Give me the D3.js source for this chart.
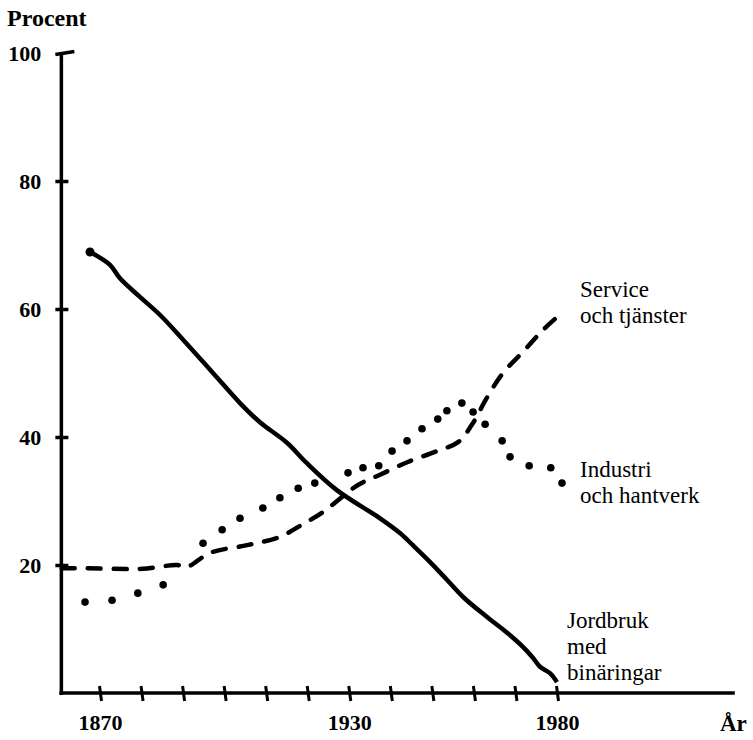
<!DOCTYPE html>
<html>
<head>
<meta charset="utf-8">
<script src="https://cdn.jsdelivr.net/npm/d3@7"></script>
<style>
  body { margin: 0; background: #fff; }
  text { font-family: "Liberation Serif", "DejaVu Serif", serif; fill: #000; }
</style>
</head>
<body>
<div id="my_dataviz"></div>
<script>
// values (year, percent)
const jordbrukYears  = [1867.6, 1872.4, 1874.8, 1879.6, 1884.4, 1890.0, 1897.2, 1903.7, 1908.5, 1915.0, 1919.8, 1927.0, 1937.4, 1942.2, 1945.3, 1949.4, 1953.5, 1957.4, 1963.1, 1968.0, 1971.8, 1974.2, 1975.9, 1978.3, 1980.0];
const jordbrukValues = [68.9, 66.9, 64.8, 61.9, 59.1, 55.2, 50.0, 45.3, 42.3, 39.1, 35.9, 31.7, 27.3, 25.0, 23.1, 20.5, 17.7, 15.0, 11.9, 9.4, 7.2, 5.5, 4.1, 3.1, 1.7];

const serviceYears  = [1860.8, 1866.4, 1872.9, 1880.3, 1888.5, 1890.9, 1896.5, 1905.4, 1913.3, 1918.1, 1923.7, 1932.1, 1937.4, 1944.1, 1951.1, 1956.2, 1959.5, 1963.1, 1967.0, 1971.8, 1976.6, 1981.2];
const serviceValues = [19.5, 19.5, 19.4, 19.4, 20.0, 19.7, 21.9, 23.1, 24.4, 26.1, 28.3, 32.5, 34.1, 36.1, 37.8, 39.2, 41.9, 46.1, 50.0, 53.3, 56.7, 59.4];

const industriYears  = [1866.4, 1872.9, 1879.1, 1885.2, 1894.8, 1899.4, 1903.7, 1909.2, 1913.3, 1917.7, 1921.7, 1929.7, 1933.3, 1937.1, 1940.3, 1943.9, 1947.5, 1951.3, 1953.5, 1957.1, 1959.8, 1962.7, 1966.8, 1968.7, 1973.3, 1978.5, 1981.2];
const industriValues = [14.2, 14.5, 15.6, 16.9, 23.4, 25.5, 27.3, 28.9, 30.5, 32.0, 32.8, 34.4, 35.2, 35.5, 37.8, 39.4, 41.3, 42.8, 44.1, 45.3, 43.9, 42.0, 39.4, 36.9, 35.5, 35.2, 32.8];

const xTickYears  = [1870, 1880, 1890, 1900, 1910, 1920, 1930, 1940, 1950, 1960, 1970, 1980];
const xTickLabels = [1870, 1930, 1980];
const yTickValues = [20, 40, 60, 80, 100];

const zip = (xs, vs) => xs.map((x, i) => ({year: x, value: vs[i]}));
const jordbruk = zip(jordbrukYears, jordbrukValues);
const service  = zip(serviceYears, serviceValues);
const industri = zip(industriYears, industriValues);

// set the dimensions of the graph
const width = 753, height = 740;

const svg = d3.select("#my_dataviz")
  .append("svg")
    .attr("width", width)
    .attr("height", height);

// scales
const x = d3.scaleLinear()
  .domain([1870, 1980])
  .range([100, 557]);
const y = d3.scaleLinear()
  .domain([0, 100])
  .range([693, 53]);

const xStart = 1860.7, xEnd = 2022.8;

// X axis: ticks crossing the line, labels only on a few years
const xAxis = svg.append("g")
  .attr("transform", `translate(0, ${y(0)})`)
  .call(d3.axisBottom(x)
    .tickValues(xTickYears)
    .tickSize(0)
    .tickPadding(21)
    .tickFormat(d => xTickLabels.includes(d) ? d : ""));
xAxis.select(".domain").remove();
xAxis.selectAll(".tick line")
  .attr("y1", -7).attr("y2", 8)
  .attr("x1", -1).attr("x2", 1)
  .attr("stroke", "#000").attr("stroke-width", 3);
xAxis.selectAll(".tick text")
  .style("font-size", "22px").style("font-weight", "bold");
xAxis.append("line")
  .attr("x1", x(xStart) - 2).attr("x2", x(xEnd))
  .attr("stroke", "#000").attr("stroke-width", 3.5);

// Y axis
const yAxis = svg.append("g")
  .attr("transform", `translate(${x(xStart)}, 0)`)
  .call(d3.axisLeft(y)
    .tickValues(yTickValues)
    .tickSize(0)
    .tickPadding(20));
yAxis.select(".domain").remove();
yAxis.selectAll(".tick line")
  .attr("x1", -6).attr("x2", d => d === 100 ? 13 : 7)
  .attr("y1", d => d === 100 ? 1 : 0).attr("y2", d => d === 100 ? -2 : 0)
  .attr("stroke", "#000").attr("stroke-width", 3.5);
yAxis.selectAll(".tick text")
  .style("font-size", "22px").style("font-weight", "bold");
yAxis.append("line")
  .attr("y1", y(0) + 2).attr("y2", y(100))
  .attr("stroke", "#000").attr("stroke-width", 3.5);

// axis titles
svg.append("text")
  .attr("x", 7).attr("y", 26)
  .style("font-size", "24px").style("font-weight", "bold")
  .text("Procent");
svg.append("text")
  .attr("x", x(xEnd) + 12).attr("y", y(0))
  .attr("dy", 38)
  .attr("text-anchor", "end")
  .style("font-size", "23px").style("font-weight", "bold")
  .text("År");

const line = d3.line()
  .x(d => x(d.year))
  .y(d => y(d.value))
  .curve(d3.curveCatmullRom);

// Jordbruk: solid line with a dot at its start
svg.append("path")
  .datum(jordbruk)
  .attr("fill", "none")
  .attr("stroke", "#000")
  .attr("stroke-width", 4.5)
  .attr("stroke-linejoin", "round")
  .attr("d", line);
svg.append("circle")
  .attr("cx", x(jordbruk[0].year))
  .attr("cy", y(jordbruk[0].value))
  .attr("r", 4.5);

// Service: dashed line
svg.append("path")
  .datum(service)
  .attr("fill", "none")
  .attr("stroke", "#000")
  .attr("stroke-width", 4.5)
  .attr("stroke-linecap", "round")
  .attr("stroke-dasharray", "13 13")
  .attr("d", line);

// Industri: dotted, one dot per reading
svg.append("g")
  .selectAll("circle")
  .data(industri)
  .enter()
  .append("circle")
    .attr("cx", d => x(d.year))
    .attr("cy", d => y(d.value))
    .attr("r", 3.8);

// series labels
const labels = [
  {lines: ["Service", "och tjänster"], x: 580, y: 297},
  {lines: ["Industri", "och hantverk"], x: 580, y: 477},
  {lines: ["Jordbruk", "med", "binäringar"], x: 567, y: 628}
];
labels.forEach(l => {
  const t = svg.append("text")
    .attr("x", l.x).attr("y", l.y)
    .style("font-size", "23px");
  l.lines.forEach((s, i) => {
    t.append("tspan")
      .attr("x", l.x)
      .attr("dy", i === 0 ? 0 : 26)
      .text(s);
  });
});
</script>
</body>
</html>
